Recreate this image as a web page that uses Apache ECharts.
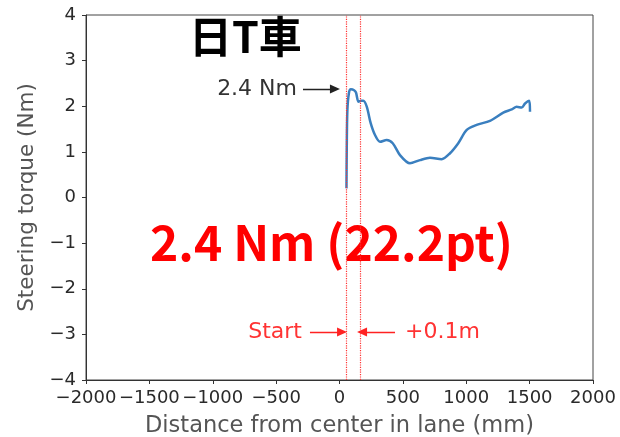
<!DOCTYPE html>
<html><head><meta charset="utf-8">
<script src="https://cdn.jsdelivr.net/npm/echarts@6/dist/echarts.min.js"></script>
<style>html,body{margin:0;padding:0;background:#fff}#c{width:620px;height:437px}</style>
</head><body><div id="c"></div>
<script>
const distance = [55,57,62,75,90,115,130,150,170,188,215,246,280,320,372,420,477,556,635,714,806,872,937,1004,1082,1187,1292,1359,1398,1437,1464,1497,1503];
const torque = [0.2,1.0,1.9,2.3,2.37,2.35,2.3,2.1,2.12,2.12,1.99,1.63,1.37,1.22,1.26,1.19,0.93,0.75,0.82,0.87,0.84,0.97,1.19,1.48,1.59,1.68,1.86,1.93,1.99,1.97,2.06,2.12,1.88];
const markerX = [50, 160];
const peakValue = 2.38;
const xTicks = [-2000,-1500,-1000,-500,0,500,1000,1500,2000];
const yTicks = [-4,-3,-2,-1,0,1,2,3,4];

const chart = echarts.init(document.getElementById('c'));
const fmt = v => String(v).replace('-', '\u2212');
const tickFont = {fontFamily:'DejaVu Sans', fontSize:18, color:'#2a2a2a'};
const arrowLine = c => ({color:c, width:1.4, type:'solid'});
chart.setOption({
  animation:false,
  grid:{left:86, right:27, top:15, bottom:57, show:true, borderColor:'#444', borderWidth:1,
    containLabel:false, outerBoundsMode:'none'},
  xAxis:{type:'value', min:xTicks[0], max:xTicks[xTicks.length-1], interval:500,
    name:'Distance from center in lane (mm)', nameLocation:'middle', nameGap:35,
    nameTextStyle:{fontFamily:'DejaVu Sans', fontSize:22.5, color:'#555'},
    axisLine:{onZero:false, lineStyle:{color:'#333'}}, axisTick:{show:true, length:4, lineStyle:{color:'#333'}},
    axisLabel:Object.assign({margin:9, formatter:fmt}, tickFont), splitLine:{show:false}},
  yAxis:{type:'value', min:yTicks[0], max:yTicks[yTicks.length-1], interval:1,
    name:'Steering torque (Nm)', nameLocation:'middle', nameGap:46,
    nameTextStyle:{fontFamily:'DejaVu Sans', fontSize:21.5, color:'#555'},
    axisLine:{show:true, onZero:false, lineStyle:{color:'#333'}}, axisTick:{show:true, length:4, lineStyle:{color:'#333'}},
    axisLabel:Object.assign({margin:10, formatter:fmt}, tickFont), splitLine:{show:false}},
  series:[{
    type:'line', data:distance.map((d,i)=>[d, torque[i]]), showSymbol:false, smooth:0.3,
    lineStyle:{color:'#3a7fbf', width:2.5},
    markLine:{silent:true, symbol:'none', animation:false,
      lineStyle:{color:'#ff3333', type:'dotted', width:1.2},
      label:{show:false},
      data:[{xAxis:markerX[0]},{xAxis:markerX[1]}]}
  },{
    type:'line', data:[],
    markLine:{silent:true, animation:false, symbol:['none','triangle'], symbolSize:[9,10],
      data:[
        [{coord:[-288, peakValue], lineStyle:arrowLine('#222'),
          label:{show:true, position:'start', formatter:'2.4 Nm', fontFamily:'DejaVu Sans', fontSize:22, color:'#333', distance:6}},
         {coord:[-36, peakValue]}],
        [{coord:[-233, -2.95], lineStyle:arrowLine('#ff2222'),
          label:{show:true, position:'start', formatter:'Start', fontFamily:'DejaVu Sans', fontSize:22, color:'#ff3333', distance:8}},
         {coord:[20, -2.95]}],
        [{coord:[438, -2.95], lineStyle:arrowLine('#ff2222'),
          label:{show:true, position:'start', formatter:'+0.1m', fontFamily:'DejaVu Sans', fontSize:22, color:'#ff3333', distance:10}},
         {coord:[178, -2.95]}]
      ]}
  }],
  graphic:[
    {type:'text', left:189, top:15, style:{text:'日T車', font:'bold 43px "Noto Sans CJK JP"', fill:'#000'}},
    {type:'text', left:150, top:219, style:{text:'2.4 Nm (22.2pt)', font:'bold 48px "Noto Sans CJK JP"', fill:'#ff0000'}}
  ]
});
</script></body></html>
